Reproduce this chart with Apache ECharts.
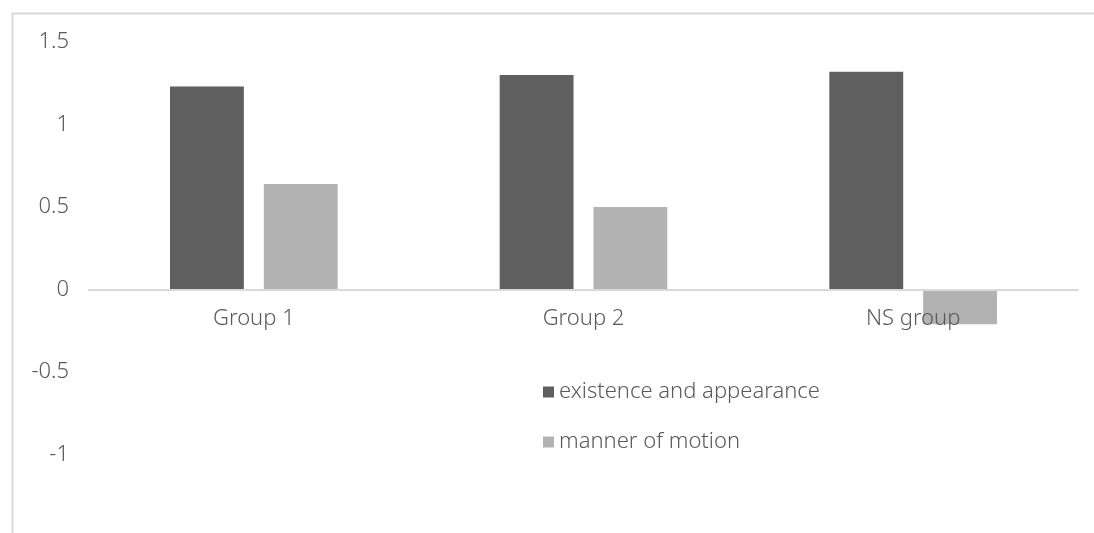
<!DOCTYPE html>
<html>
<head>
<meta charset="utf-8">
<script src="https://cdn.jsdelivr.net/npm/echarts@6/dist/echarts.min.js"></script>
<style>
html,body{margin:0;padding:0;background:#fff;}
#main{width:1094px;height:533px;}
</style>
</head>
<body>
<div id="main"></div>
<script>
const categories = ['Group 1', 'Group 2', 'NS group'];
const existenceAppearance = [1.23, 1.30, 1.32];
const mannerOfMotion = [0.64, 0.50, -0.21];
const seriesNames = ['existence and appearance', 'manner of motion'];

const FONT = '"Noto Sans", sans-serif';
const chart = echarts.init(document.getElementById('main'));
chart.setOption({
  animation: false,
  backgroundColor: '#fff',
  graphic: [{
    type: 'rect', left: 10, top: 11, z: -1,
    shape: { width: 1200, height: 700 },
    style: { fill: 'none', stroke: '#d9d9d9', lineWidth: 2 }
  }],
  grid: { left: 89, right: 16, top: 42, height: 495, containLabel: false, outerBoundsMode: 'none' },
  legend: {
    orient: 'vertical', left: 538, top: 376,
    itemWidth: 11, itemHeight: 11, itemGap: 28,
    icon: 'rect',
    textStyle: { color: '#595959', fontSize: 22, fontWeight: 300, fontFamily: FONT },
    data: seriesNames
  },
  xAxis: {
    type: 'category', data: categories, z: 5,
    axisLine: { onZero: true, lineStyle: { color: '#d9d9d9', width: 2 } },
    axisTick: { show: false },
    axisLabel: { color: '#595959', fontSize: 22, fontWeight: 300, fontFamily: FONT, margin: -229 }
  },
  yAxis: {
    type: 'value', min: -1.5, max: 1.5, interval: 0.5,
    axisLine: { show: false }, axisTick: { show: false },
    splitLine: { show: false },
    axisLabel: { color: '#595959', fontSize: 22, fontWeight: 300, fontFamily: FONT, margin: 20, showMinLabel: false }
  },
  series: [
    { name: seriesNames[0], type: 'bar', data: existenceAppearance,
      barWidth: '22.4%', barGap: '27%',
      itemStyle: { color: '#5f5f5f' } },
    { name: seriesNames[1], type: 'bar', data: mannerOfMotion,
      barWidth: '22.4%',
      itemStyle: { color: '#b2b2b2' } }
  ]
});
</script>
</body>
</html>
